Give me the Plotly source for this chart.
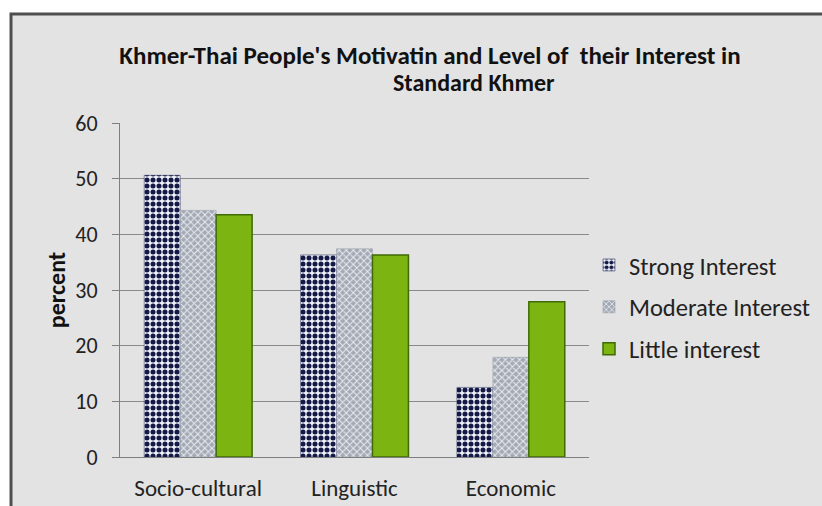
import plotly.graph_objects as go

# Motivation categories and percent of respondents per interest level
categories = ["Socio-cultural", "Linguistic", "Economic"]
strong_interest = [50.6, 36.3, 12.5]
moderate_interest = [44.3, 37.4, 17.9]
little_interest = [43.5, 36.3, 27.9]
y_ticks = [0, 10, 20, 30, 40, 50, 60]

FONT = "Calibri, Carlito, Lato, sans-serif"

fig = go.Figure()

fig.add_trace(go.Bar(
    name="Strong Interest", x=categories, y=strong_interest,
    legendgroup="a",
    marker=dict(
        color="#f4f6fb",
        line=dict(color="#1b2150", width=0.5),
        pattern=dict(shape=".", fgcolor="#141a45", bgcolor="#eef1f8",
                     size=6, solidity=0.55, fillmode="replace"),
    ),
))
fig.add_trace(go.Bar(
    name="Moderate Interest", x=categories, y=moderate_interest,
    legendgroup="b",
    marker=dict(
        color="#b4b9c2",
        line=dict(color="#8f96a2", width=0.5),
        pattern=dict(shape="x", fgcolor="#eceef2", bgcolor="#a4aab5",
                     size=5, solidity=0.35, fillmode="replace"),
    ),
))
fig.add_trace(go.Bar(
    name="Little interest", x=categories, y=little_interest,
    legendgroup="c",
    marker=dict(color="#7cb512", line=dict(color="#3f6a05", width=1.5)),
))

# Chart-area frame: light gray panel with a dark top/left edge
fig.add_shape(
    type="rect", xref="paper", yref="paper",
    x0=-0.2324, x1=1.7, y0=-0.3, y1=1.3263,
    fillcolor="#e3e3e3", line=dict(color="#4f4f4f", width=3),
    layer="below",
)

# Second title line, set slightly right of the first as in the chart title
fig.add_annotation(
    text="Standard Khmer", xref="paper", yref="paper",
    x=(474 - 120) / 469, xanchor="center",
    y=(457 - 82) / 334, yanchor="middle",
    showarrow=False,
    font=dict(family=FONT, size=24, color="#111111", weight="bold"),
)

fig.update_layout(
    width=822, height=506,
    margin=dict(l=120, r=233, t=123, b=49, autoexpand=False),
    paper_bgcolor="white",
    plot_bgcolor="rgba(0,0,0,0)",
    font=dict(family=FONT, size=22, color="#222222"),
    barmode="group",
    bargap=0.31,
    bargroupgap=0.0,
    title=dict(
        text="Khmer-Thai People's Motivatin and Level of  their Interest in",
        xref="container", yref="container",
        x=430 / 822, xanchor="center",
        y=1 - 55 / 506, yanchor="middle",
        font=dict(family=FONT, size=25, color="#111111", weight="bold"),
    ),
    showlegend=True,
    legend=dict(
        x=1.0, xanchor="left", y=0.449, yanchor="middle",
        bgcolor="rgba(0,0,0,0)",
        font=dict(family=FONT, size=24.5, color="#222222"),
        traceorder="grouped", tracegroupgap=7,
        itemwidth=30,
    ),
    xaxis=dict(
        automargin=False,
        showgrid=False, showline=True, linecolor="#7f7f7f", linewidth=1,
        ticks="", tickfont=dict(family=FONT, size=23, color="#222222"),
        ticklabelstandoff=10,
    ),
    yaxis=dict(
        automargin=False,
        range=[0, 60], tickvals=y_ticks, ticktext=[str(v) for v in y_ticks],
        showgrid=True, gridcolor="#8a8a8a", gridwidth=1,
        showline=True, linecolor="#7f7f7f", linewidth=1,
        ticks="outside", ticklen=7, tickcolor="#7f7f7f",
        ticklabelstandoff=10,
        zeroline=False,
        tickfont=dict(family=FONT, size=22, color="#222222"),
        title=dict(text="percent", standoff=2,
                   font=dict(family=FONT, size=24, color="#111111", weight="bold")),
    ),
)

fig.write_html("out.html")
